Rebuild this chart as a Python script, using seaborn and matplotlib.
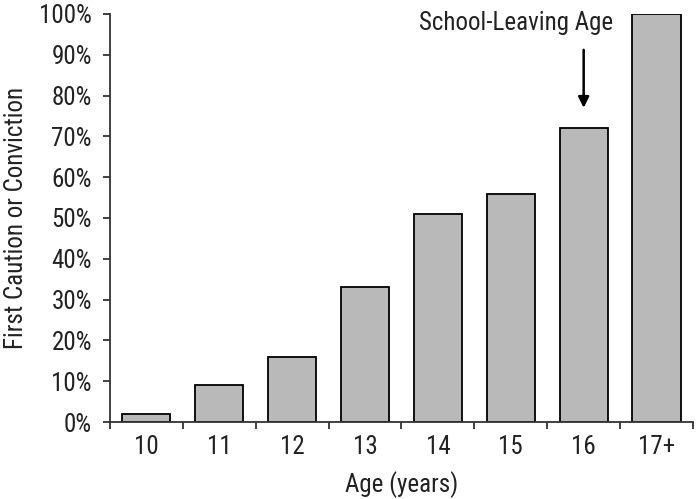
import matplotlib
matplotlib.use('Agg')
import matplotlib.pyplot as plt
import seaborn as sns
import pandas as pd
from matplotlib.ticker import PercentFormatter, FixedLocator

# Data
ages = ['10', '11', '12', '13', '14', '15', '16', '17+']
pct = [2, 9, 16, 33, 51, 56, 72, 100]
y_ticks = list(range(0, 101, 10))

df = pd.DataFrame({'age': ages, 'pct': pct})

sns.set_style('ticks')
plt.rcParams['font.family'] = ['Roboto Condensed', 'Liberation Sans', 'DejaVu Sans']
fs = 18

fig = plt.figure(figsize=(6.98, 4.99), dpi=100)
ax = fig.add_axes([0.1576, 0.1543, 0.8352, 0.8177])

sns.barplot(data=df, x='age', y='pct', ax=ax, color='#b9b9b9', saturation=1,
            edgecolor='black', linewidth=1.3, width=0.66)

ax.set_xlim(-0.5, len(ages) - 0.5)
ax.set_ylim(0, 100)
ax.set_yticks(y_ticks)
ax.yaxis.set_major_formatter(PercentFormatter(decimals=0))
# tick marks between categories, labels at centres
ax.xaxis.set_major_locator(FixedLocator([i + 0.5 for i in range(-1, len(ages))]))
ax.set_xticklabels([''] * (len(ages) + 1))
ax.xaxis.set_minor_locator(FixedLocator(range(len(ages))))
ax.set_xticklabels(ages, minor=True)
ax.tick_params(axis='x', which='minor', length=0, labelsize=fs, pad=9)
ax.tick_params(axis='x', which='major', length=5, width=1.3, color='#333333')
ax.tick_params(axis='y', length=5, width=1.3, labelsize=fs, color='#333333', pad=8)
for lab in ax.get_yticklabels() + ax.get_xticklabels(minor=True):
    lab.set_color('#222222')

for s in ['top', 'right']:
    ax.spines[s].set_visible(False)
for s in ['left', 'bottom']:
    ax.spines[s].set_linewidth(1.3)
    ax.spines[s].set_color('#333333')

ax.set_xlabel('Age (years)', fontsize=fs, labelpad=9, color='#222222')
ax.set_ylabel('First Caution or Conviction', fontsize=fs, labelpad=8, color='#222222')

ax.text(5.07, 97.8, 'School-Leaving Age', ha='center', va='center',
        fontsize=fs, color='#222222')
ax.annotate('', xy=(6, 77), xytext=(6, 91.2),
            arrowprops=dict(arrowstyle='-|>', color='black', lw=1.8,
                            mutation_scale=16, shrinkA=0, shrinkB=0))

fig.savefig('out.png', dpi=100)
